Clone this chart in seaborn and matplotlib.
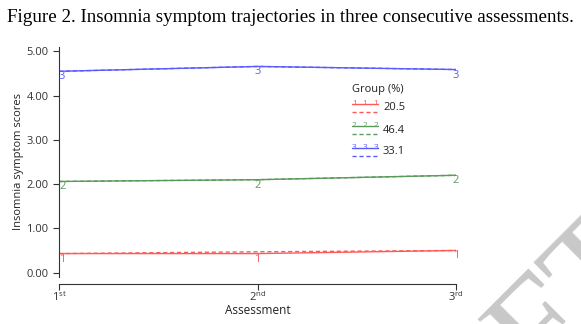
import numpy as np
import pandas as pd
import matplotlib
matplotlib.use("Agg")
import matplotlib.pyplot as plt
import seaborn as sns

# ---- data ----
assessments = [1, 2, 3]
tick_labels = [r"1$^{\mathrm{st}}$", r"2$^{\mathrm{nd}}$", r"3$^{\mathrm{rd}}$"]
groups = ["1", "2", "3"]
group_pct = ["20.5", "46.4", "33.1"]
observed_1 = [0.43, 0.43, 0.50]
observed_2 = [2.06, 2.10, 2.20]
observed_3 = [4.55, 4.66, 4.59]
estimated_1 = [0.43, 0.47, 0.50]
estimated_2 = [2.06, 2.10, 2.20]
estimated_3 = [4.55, 4.66, 4.59]
yticks = [0, 1, 2, 3, 4, 5]

colors = {"1": "#ff5a5a", "2": "#5a9a5a", "3": "#5a5aff"}

rows = []
for g, obs, est in zip(groups, [observed_1, observed_2, observed_3],
                       [estimated_1, estimated_2, estimated_3]):
    for a, o, e in zip(assessments, obs, est):
        rows.append({"Assessment": a, "score": o, "group": g, "kind": "observed"})
        rows.append({"Assessment": a, "score": e, "group": g, "kind": "estimated"})
df = pd.DataFrame(rows)

sns.set_style("ticks")
plt.rcParams["font.family"] = ["Open Sans", "DejaVu Sans"]
plt.rcParams["mathtext.fontset"] = "custom"
plt.rcParams["mathtext.rm"] = "Open Sans"

fig = plt.figure(figsize=(5.81, 3.24), dpi=100)

# watermark
fig.text(1.14, 0.18, "DRAFT", fontfamily="Liberation Serif", fontsize=105,
         color="#c8c8c8", rotation=45, ha="right", va="baseline",
         rotation_mode="anchor", zorder=-1)

ax = fig.add_axes([0.1015, 0.145, 0.785 - 0.1015, 0.855 - 0.145])
ax.patch.set_alpha(0)

sns.lineplot(data=df, x="Assessment", y="score", hue="group", style="kind",
             style_order=["observed", "estimated"],
             dashes={"observed": "", "estimated": (3, 2)},
             palette=colors, linewidth=1.0, legend=False, ax=ax, errorbar=None)

# number markers
for g, obs in zip(groups, [observed_1, observed_2, observed_3]):
    for a, o in zip(assessments, obs):
        ha = "left" if a == 1 else "center"
        ax.text(a, o, g, color=colors[g], fontsize=8, ha=ha, va="top",
                fontfamily="Open Sans")

ax.set_xlim(1, 3)
ax.set_ylim(-0.1, 5.1)
ax.set_xticks(assessments)
ax.set_xticklabels(tick_labels)
ax.set_yticks(yticks)
ax.set_yticklabels([f"{v:.2f}" for v in yticks])
ax.tick_params(labelsize=8, colors="#333333", length=4, width=0.8)
ax.tick_params(axis="x", pad=0.5)
sns.despine(ax=ax)
for s in ["left", "bottom"]:
    ax.spines[s].set_color("#333333")
    ax.spines[s].set_linewidth(0.8)
ax.spines["bottom"].set_position(("outward", 5))
ax.set_xlabel("Assessment", fontsize=8.5, color="#222222", labelpad=0)
ax.set_ylabel("Insomnia symptom scores", fontsize=8, color="#222222", labelpad=2)

# legend (manual)
lx0, lx1 = 0.738, 0.804
ax.text(lx0, 0.817, "Group (%)", transform=ax.transAxes, fontsize=8,
        color="#222222", va="center", ha="left")
ys = [0.752, 0.655, 0.561]
for g, p, yy in zip(groups, group_pct, ys):
    c = colors[g]
    ax.plot([lx0, lx1], [yy, yy], color=c, lw=1.0, transform=ax.transAxes, clip_on=False)
    for xx in np.linspace(lx0 + 0.006, lx1 - 0.006, 3):
        ax.text(xx, yy + 0.003, g, color=c, fontsize=6, ha="center", va="center",
                transform=ax.transAxes)
    ax.plot([lx0, lx1], [yy - 0.035, yy - 0.035], color=c, lw=1.0, ls=(0, (3, 2)),
            transform=ax.transAxes, clip_on=False)
    ax.text(lx1 + 0.012, yy - 0.016, p, transform=ax.transAxes, fontsize=8,
            color="#222222", va="center", ha="left")

fig.text(0.012, 0.945, "Figure 2. Insomnia symptom trajectories in three consecutive assessments.",
         fontfamily="Liberation Serif", fontsize=13.7, ha="left", va="center", color="black")

fig.savefig("out.png", dpi=100)
